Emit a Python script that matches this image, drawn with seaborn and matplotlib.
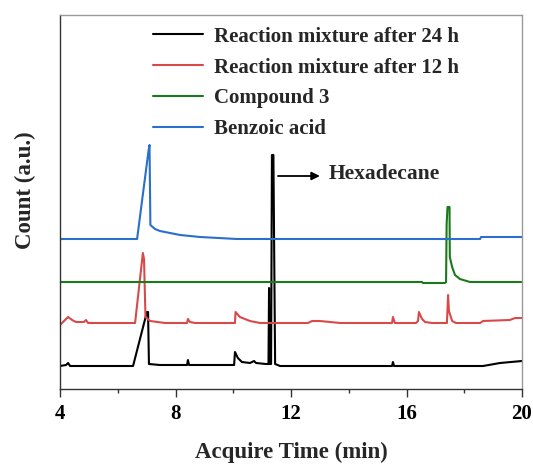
import matplotlib
matplotlib.use("Agg")
import matplotlib.pyplot as plt
import seaborn as sns
import pandas as pd

# ---- data (time in min, count in a.u., traces already offset) ----
t_24h = [4.00, 4.21, 4.28, 4.35, 6.53, 7.01, 7.05, 7.08, 7.46, 8.40, 8.43, 8.47,
         10.03, 10.06, 10.16, 10.30, 10.58, 10.72, 10.79, 11.13, 11.22, 11.24, 11.26,
         11.31, 11.34, 11.39, 11.45, 11.62, 15.50, 15.53, 15.57, 18.65, 19.24, 20.00]
c_24h = [23, 24, 26, 23, 23, 77, 77, 25, 24, 24, 29, 24,
         24, 37, 31, 27, 26, 28, 26, 25, 25, 101, 25,
         25, 234, 234, 25, 23, 23, 27, 23, 23, 26, 28]

t_12h = [4.00, 4.21, 4.28, 4.42, 4.55, 4.83, 4.90, 4.97, 6.60, 6.87, 6.91, 6.96,
         7.12, 7.64, 8.40, 8.43, 8.50, 8.68, 10.06, 10.08, 10.23, 10.58, 10.93,
         12.59, 12.73, 13.00, 13.70, 15.50, 15.53, 15.60, 16.33, 16.40, 16.43,
         16.54, 16.64, 16.88, 17.40, 17.44, 17.47, 17.58, 17.71, 18.55, 18.65,
         19.58, 19.76, 20.00]
c_12h = [64, 70, 72, 69, 67, 67, 69, 66, 66, 136, 130, 72,
         68, 66, 66, 70, 67, 66, 66, 77, 72, 68, 66,
         66, 68, 68, 66, 66, 72, 66, 66, 68, 77,
         70, 67, 66, 66, 94, 78, 68, 66, 66, 68,
         69, 71, 71]

t_cpd3 = [4.00, 16.54, 16.57, 17.33, 17.37, 17.39, 17.42, 17.49, 17.50, 17.58,
          17.68, 17.85, 18.20, 20.00]
c_cpd3 = [107, 107, 106, 106, 107, 165, 182, 182, 132, 122,
          114, 110, 107, 107]

t_benz = [4.00, 6.67, 7.06, 7.10, 7.13, 7.29, 7.46, 7.81, 8.16, 8.85, 10.13,
          18.55, 18.58, 20.00]
c_benz = [150, 150, 237, 244, 164, 160, 158, 156, 154, 152, 150,
          150, 152, 152]

labels = ["Reaction mixture after 24 h", "Reaction mixture after 12 h",
          "Compound 3", "Benzoic acid"]
colors = ["#000000", "#d84a4a", "#1a7a1a", "#2a6fcc"]
x_ticks = [4, 8, 12, 16, 20]

frames = []
for lab, t, c in zip(labels, [t_24h, t_12h, t_cpd3, t_benz],
                     [c_24h, c_12h, c_cpd3, c_benz]):
    frames.append(pd.DataFrame({"time": t, "count": c, "series": lab}))
df = pd.concat(frames, ignore_index=True)

sns.set_style("white")
plt.rcParams["font.family"] = ["Liberation Serif", "DejaVu Serif"]
plt.rcParams["font.weight"] = "bold"

fig = plt.figure(figsize=(5.33, 4.66), dpi=100)
ax = fig.add_axes([60 / 533, 77 / 466, 462 / 533, 374 / 466])

sns.lineplot(data=df, x="time", y="count", hue="series", hue_order=labels,
             palette=colors, sort=False, estimator=None, linewidth=1.5, ax=ax)

ax.set_xlim(4, 20)
ax.set_ylim(0, 374)
ax.set_xticks(x_ticks)
ax.set_xticklabels([str(v) for v in x_ticks], fontsize=15, fontweight="bold")
ax.set_xticks([6, 10, 14, 18], minor=True)
ax.set_yticks([])
ax.tick_params(axis="x", which="major", direction="out", length=6, width=1,
               bottom=True, pad=5, colors="#333333", labelcolor="black")
ax.tick_params(axis="x", which="minor", direction="out", length=3, width=1,
               bottom=True, colors="#333333")
for s in ["left", "bottom"]:
    ax.spines[s].set_color("#333333")
    ax.spines[s].set_linewidth(1.0)
for s in ["top", "right"]:
    ax.spines[s].set_color("#999999")
    ax.spines[s].set_linewidth(1.0)

ax.set_xlabel("Acquire Time (min)", fontsize=16.5, fontweight="bold", labelpad=12.5)
ax.set_ylabel("Count (a.u.)", fontsize=16.5, fontweight="bold")
ax.yaxis.set_label_coords(-0.052, 0.532)

# Hexadecane annotation
ax.annotate("", xy=(13.0, 213), xytext=(11.55, 213),
            arrowprops=dict(arrowstyle="-|>", color="black", lw=1.3,
                            mutation_scale=12, shrinkA=0, shrinkB=0))
ax.text(13.32, 215, "Hexadecane", fontsize=15.5, fontweight="bold",
        va="center", ha="left")

leg = ax.legend(loc="upper left", bbox_to_anchor=(0.172, 1.005), frameon=False,
                fontsize=15, handlelength=2.4, handletextpad=0.53,
                labelspacing=0.52, borderaxespad=0.25)
for t in leg.get_texts():
    t.set_fontweight("bold")
for h in leg.get_lines():
    h.set_linewidth(1.5)

fig.savefig("out.png", dpi=100)
